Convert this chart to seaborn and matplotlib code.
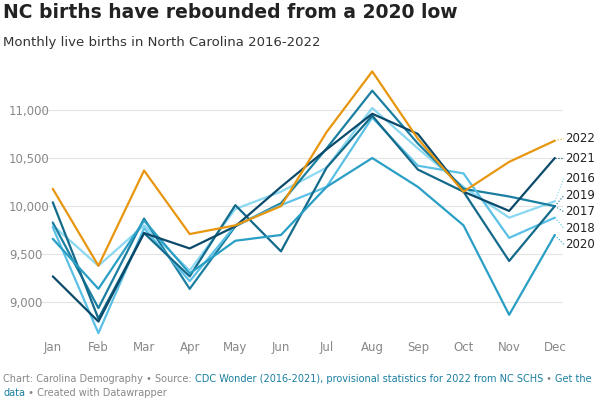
import matplotlib
matplotlib.use('Agg')
import matplotlib.pyplot as plt
import seaborn as sns
import pandas as pd

months = ['Jan', 'Feb', 'Mar', 'Apr', 'May', 'Jun', 'Jul', 'Aug', 'Sep', 'Oct', 'Nov', 'Dec']
b2016 = [9800, 9380, 9800, 9330, 9970, 10150, 10400, 11020, 10600, 10200, 9880, 10050]
b2017 = [9830, 8940, 9870, 9140, 9790, 10030, 10600, 11200, 10650, 10180, 10100, 10000]
b2018 = [9780, 8680, 9770, 9220, 9800, 10010, 10200, 10920, 10420, 10340, 9670, 9880]
b2019 = [10040, 8830, 9720, 9270, 10010, 9530, 10400, 10940, 10380, 10150, 9430, 10000]
b2020 = [9660, 9140, 9850, 9300, 9640, 9700, 10200, 10500, 10200, 9800, 8870, 9700]
b2021 = [9270, 8800, 9720, 9560, 9790, 10200, 10590, 10960, 10750, 10150, 9950, 10500]
b2022 = [10180, 9380, 10370, 9710, 9800, 10000, 10770, 11400, 10700, 10150, 10460, 10680]

series = {'2016': b2016, '2017': b2017, '2018': b2018, '2019': b2019,
          '2020': b2020, '2021': b2021, '2022': b2022}
colors = {'2016': '#8ad8f2', '2017': '#1a7fa0', '2018': '#5bc0e6', '2019': '#136a8a',
          '2020': '#2a9fc6', '2021': '#0b4a6b', '2022': '#e8960e'}
# label y positions (data units) to avoid overlap
label_y = {'2022': 10700, '2021': 10500, '2016': 10290, '2019': 10110,
           '2017': 9940, '2018': 9770, '2020': 9600}

rows = []
for yr, vals in series.items():
    for i, v in enumerate(vals):
        rows.append({'month': i, 'births': v, 'year': yr})
df = pd.DataFrame(rows)

sns.set_style('white')
fig = plt.figure(figsize=(6, 4), dpi=100)
ax = fig.add_axes([40 / 600, 0.16, 523 / 600, 0.6975])
sns.lineplot(data=df, x='month', y='births', hue='year', palette=colors,
             linewidth=1.6, legend=False, ax=ax)

for yr, vals in series.items():
    ax.plot([11, 11.2], [vals[-1], label_y[yr]], ls=':', lw=0.8, color=colors[yr], clip_on=False)
    ax.text(11.22, label_y[yr], yr, va='center', fontsize=8.5, color='#222222', clip_on=False)

ax.set_xlim(-0.28, 11.18)
ax.set_ylim(8650, 11550)
ax.set_xticks(range(12))
ax.set_xticklabels(months)
ax.set_yticks([9000, 9500, 10000, 10500, 11000])
ax.set_yticklabels(['9,000', '9,500', '10,000', '10,500', '11,000'])
ax.grid(axis='y', color='#e3e3e3', lw=0.8)
ax.set_axisbelow(True)
ax.tick_params(colors='#888888', labelsize=8.5, length=0)
ax.tick_params(axis='y', pad=-2)
for lab in ax.get_yticklabels():
    lab.set_horizontalalignment('left')
    lab.set_x(-0.065)
for s in ax.spines.values():
    s.set_visible(False)
ax.set_xlabel('')
ax.set_ylabel('')

fig.text(0.005, 0.955, 'NC births have rebounded from a 2020 low', fontsize=13.5, fontweight='bold', color='#222222')
fig.text(0.005, 0.885, 'Monthly live births in North Carolina 2016-2022', fontsize=9.5, color='#333333')

# footer pieces chained by measured width
fig.canvas.draw()
r = fig.canvas.get_renderer()
def chain(x, y, parts):
    for txt, col in parts:
        t = fig.text(x, y, txt, fontsize=7, color=col)
        x += t.get_window_extent(r).width / 600
pieces1 = [('Chart: Carolina Demography • Source: ', '#888888'),
           ('CDC Wonder (2016-2021), provisional statistics for 2022 from NC SCHS', '#1a7fa0'),
           (' • ', '#888888'), ('Get the', '#1a7fa0')]
chain(0.005, 0.045, pieces1)
chain(0.005, 0.01, [('data', '#1a7fa0'), (' • Created with Datawrapper', '#888888')])

fig.savefig('out.png', dpi=100)
